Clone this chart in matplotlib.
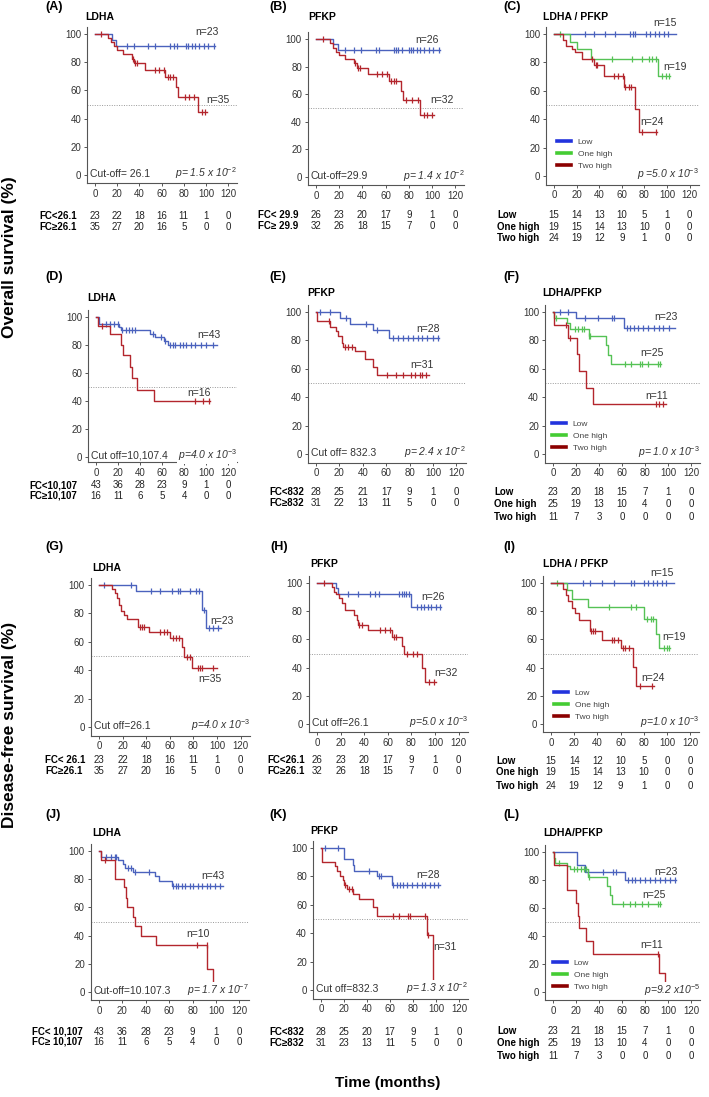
import numpy as np
import matplotlib.pyplot as plt
from matplotlib.lines import Line2D
from matplotlib.transforms import Affine2D, blended_transform_factory

plt.rcParams['font.family'] = ['Liberation Sans', 'DejaVu Sans']
plt.rcParams['mathtext.fontset'] = 'custom'
plt.rcParams['mathtext.rm'] = 'Liberation Sans'
plt.rcParams['mathtext.it'] = 'Liberation Sans:italic'

W, H = 709, 1097
TIMES = [0, 20, 40, 60, 80, 100, 120]
YTICKS = [0, 20, 40, 60, 80, 100]
GROUPS3 = ['Low', 'One high', 'Two high']

# ---- Kaplan-Meier curves: step times (months), survival (%), censor times ----
A_LOW_T = [0, 15, 19, 108]
A_LOW_S = [100, 95.7, 91.3, 91.3]
A_LOW_C = [29, 35, 48, 54, 68, 71, 74, 82, 84, 87, 90, 94, 98, 102, 107]
A_HIGH_T = [0, 12, 14, 17, 20, 25, 33, 35, 45, 63, 73, 75, 93, 101]
A_HIGH_S = [100, 97.1, 94.3, 91.4, 88.6, 85.7, 82.6, 79.5, 74.6, 69.4, 62.5, 55.6, 44.5, 44.5]
A_HIGH_C = [5, 34, 36, 38, 54, 58, 62, 66, 68, 70, 81, 85, 89, 96, 99]

B_LOW_T = [0, 15, 19, 107]
B_LOW_S = [100, 96.2, 92.3, 92.3]
B_LOW_C = [25, 33, 39, 52, 54, 67, 69, 71, 74, 80, 82, 84, 87, 90, 93, 97, 101, 106]
B_HIGH_T = [0, 12, 15, 17, 20, 25, 33, 35, 45, 63, 73, 75, 90, 102]
B_HIGH_S = [100, 96.9, 93.8, 90.6, 88.5, 85.6, 82.5, 79, 74.8, 69.9, 62.5, 55.9, 44.7, 44.7]
B_HIGH_C = [6, 34, 36, 38, 53, 57, 61, 65, 67, 69, 78, 83, 88, 93, 96, 100]

C_LOW_T = [0, 108]
C_LOW_S = [100, 100]
C_LOW_C = [27.5, 35, 44.7, 54, 67.5, 70, 72, 81, 85, 89.6, 93, 97, 101]
C_ONE_T = [0, 14, 20, 33, 92, 103]
C_ONE_S = [100, 94.7, 89.5, 82.5, 70.7, 70.7]
C_ONE_C = [5, 51, 69, 78, 84, 87, 90, 96, 99, 101.5]
C_TWO_T = [0, 8, 11, 16, 19, 25, 35, 44, 62, 72, 75, 91]
C_TWO_S = [100, 95.8, 91.7, 89.4, 87.5, 82.2, 78.3, 70.5, 62.7, 47, 31.3, 31.3]
C_TWO_C = [34, 37, 38, 53, 57, 61, 63, 66, 68, 78, 90]

D_LOW_T = [0, 3, 21, 23, 49, 54, 62, 65, 110]
D_LOW_S = [100, 95.3, 93.0, 90.7, 88.1, 85.4, 82.6, 79.8, 79.8]
D_LOW_C = [9, 13, 16, 20, 24, 27, 30, 33, 35, 52, 59, 63, 67, 70, 72, 76, 79, 82, 86, 90, 95, 100, 106]
D_HIGH_T = [0, 2, 13, 22.5, 24.3, 31, 32.5, 37.7, 53, 104]
D_HIGH_S = [100, 93.8, 87.5, 80.2, 72.9, 64.6, 56.3, 47.9, 39.9, 39.9]
D_HIGH_C = [5, 90, 97, 103]

E_LOW_T = [0, 20.6, 29, 49, 62, 105]
E_LOW_S = [100, 95.8, 91.7, 87.2, 81.9, 81.9]
E_LOW_C = [3, 12, 26, 43, 52, 66, 70, 74, 79, 83, 87, 91, 95, 100, 104]
E_HIGH_T = [0, 1, 12, 17, 19, 22, 23.5, 33.5, 42, 49, 52, 97]
E_HIGH_S = [100, 93.5, 89.5, 86.4, 83.3, 78.2, 75.3, 72.2, 66.8, 61.2, 55.8, 55.8]
E_HIGH_C = [11, 25, 27, 31, 61, 68, 74, 81, 85, 89, 91, 94]

F_LOW_T = [0, 20, 62, 106]
F_LOW_S = [100, 95.7, 88.5, 88.5]
F_LOW_C = [6, 13, 28, 39.5, 51, 53, 64, 67, 70, 74, 78, 83, 88, 92, 96, 101]
F_ONE_T = [0, 1, 12, 15, 31, 46, 48, 50, 94]
F_ONE_S = [100, 96, 92, 88, 83.2, 77, 70, 63.2, 63.2]
F_ONE_C = [3, 19, 22, 25, 27, 31, 32, 62.5, 68, 75.5, 77, 83, 91, 93]
F_TWO_T = [0, 1, 13, 21, 23, 29, 35, 98]
F_TWO_S = [100, 90.9, 81.8, 70.1, 58.4, 46.8, 35.1, 35.1]
F_TWO_C = [11.5, 15, 90, 92, 96]

G_LOW_T = [0, 31.4, 87, 90.6, 103]
G_LOW_S = [100, 95.5, 82.5, 69.4, 69.4]
G_LOW_C = [4.5, 27, 44, 52, 62, 67, 69, 77, 82, 85, 89, 93, 97, 101]
G_HIGH_T = [0, 11, 13.5, 15, 17, 19, 21, 23.5, 33.4, 42, 60, 70, 72, 78.8, 100]
G_HIGH_S = [100, 97, 94.1, 90.6, 85.9, 81.9, 78.8, 75.8, 70.6, 67, 63, 56, 49.4, 41.9, 41.9]
G_HIGH_C = [35, 36.5, 38, 52, 55, 57.5, 63, 65.5, 67.5, 74.5, 76.8, 84, 86, 87.5, 97]

H_LOW_T = [0, 16, 18, 80, 105]
H_LOW_S = [100, 96.2, 92.3, 83.3, 83.3]
H_LOW_C = [26.6, 35, 44.6, 49.4, 52.3, 69.4, 72, 73.7, 75.7, 78, 85, 88, 91, 94, 96.6, 101, 104.6]
H_HIGH_T = [0, 12.3, 14, 16, 19, 21, 24, 31, 33.7, 35, 43, 63.7, 72, 73.7, 89.4, 91.4, 101]
H_HIGH_S = [100, 96.9, 93.8, 92, 89.6, 85.8, 80.7, 77, 73.6, 70, 66.5, 61.8, 55, 50, 39.4, 30, 30]
H_HIGH_C = [5.7, 36, 38, 53.7, 58, 62, 65, 67, 76.6, 81, 85, 95, 99]

I_LOW_T = [0, 106]
I_LOW_S = [100, 100]
I_LOW_C = [28, 33.7, 43.8, 54, 69, 71.5, 80, 84, 88, 91.4, 95.7, 99.4]
I_ONE_T = [0, 14, 18, 32, 80, 90.8, 92.8, 103]
I_ONE_S = [100, 94.7, 88.7, 82.7, 74.6, 64, 53.7, 53.7]
I_ONE_C = [5, 50, 69, 73, 83, 86, 88, 97, 100, 102]
I_TWO_T = [0, 10.6, 13, 15, 18, 21, 24.5, 33.5, 43.8, 60.5, 71, 73.5, 88.5]
I_TWO_S = [100, 95.8, 91.7, 87.5, 82.3, 78.7, 74, 65.7, 59.8, 53.9, 40.2, 26.7, 26.7]
I_TWO_C = [34.5, 36, 38, 52.4, 54.5, 58, 62, 64, 67, 77, 87]

J_LOW_T = [0, 2, 16, 20.6, 22, 29, 47.7, 51.4, 62, 106]
J_LOW_S = [100, 96, 93.7, 90.9, 88.2, 85.3, 82.3, 79, 75.4, 75.4]
J_LOW_C = [6.3, 10.6, 13.4, 14.9, 25, 27.7, 30.6, 43, 63.4, 65.4, 67.7, 70.6, 73.4, 77.7,
           80.6, 84.9, 87.7, 92, 94.9, 99, 103.4]
J_HIGH_T = [0, 1.4, 13.4, 21, 22.9, 24.3, 29, 30.6, 36, 49, 92.6, 97.7, 97.7]
J_HIGH_S = [100, 93.8, 80, 74.5, 67, 60, 53, 46.5, 39.7, 33, 16.5, 0, 0]
J_HIGH_C = [5, 83.4, 92]

K_LOW_T = [0, 20.2, 27.7, 29, 48.6, 61.6, 103.5]
K_LOW_S = [100, 92.3, 88.2, 84, 80.2, 74.1, 74.1]
K_LOW_C = [3.8, 14.5, 42, 50, 52, 63, 66, 68.8, 71.7, 74.6, 79, 83.2, 87.6, 90.5, 94.8, 98, 102]
K_HIGH_T = [0, 1, 12.4, 14, 16.8, 19, 19.8, 22.5, 28, 32.7, 45.6, 48.6, 92, 97.7, 97.7]
K_HIGH_S = [100, 90.3, 87.1, 83.9, 80.6, 77.4, 74.2, 71, 67.7, 64.2, 58.8, 51.8, 38.8, 0, 0]
K_HIGH_C = [21, 24, 27, 62.4, 68, 76, 77.5, 90.5, 93]

L_LOW_T = [0, 20.7, 28, 63, 107]
L_LOW_S = [100, 90.5, 86, 80, 80]
L_LOW_C = [30.8, 43.8, 52.4, 55, 65.4, 68.3, 71, 75.5, 80, 84, 88.5, 92.8, 97, 101.4, 105.8]
L_ONE_T = [0, 1, 2, 12, 15, 30.8, 46.7, 49.6, 51, 94]
L_ONE_S = [100, 96, 92, 90, 88, 82.5, 75.4, 69.4, 62.7, 62.7]
L_ONE_C = [5, 18, 21, 24, 27, 29, 31, 61, 67, 71, 77, 82.7, 91.4, 92.8]
L_TWO_T = [0, 1, 12, 20, 22, 23, 28.8, 35, 92, 97.7, 97.7]
L_TWO_S = [100, 90.9, 72.7, 63.6, 54.5, 45.5, 36.4, 27.3, 13.6, 0, 0]
L_TWO_C = [91]

# ---- numbers at risk ----
A_RISK_LAB = ['FC<26.1', 'FC\u226526.1']
A_RISK = [[23, 22, 18, 16, 11, 1, 0], [35, 27, 20, 16, 5, 0, 0]]
B_RISK_LAB = ['FC< 29.9', 'FC\u2265 29.9']
B_RISK = [[26, 23, 20, 17, 9, 1, 0], [32, 26, 18, 15, 7, 0, 0]]
C_RISK = [[15, 14, 13, 10, 5, 1, 0], [19, 15, 14, 13, 10, 0, 0], [24, 19, 12, 9, 1, 0, 0]]
D_RISK_LAB = ['FC<10,107', 'FC\u226510,107']
D_RISK = [[43, 36, 28, 23, 9, 1, 0], [16, 11, 6, 5, 4, 0, 0]]
E_RISK_LAB = ['FC<832', 'FC\u2265832']
E_RISK = [[28, 25, 21, 17, 9, 1, 0], [31, 22, 13, 11, 5, 0, 0]]
F_RISK = [[23, 20, 18, 15, 7, 1, 0], [25, 19, 13, 10, 4, 0, 0], [11, 7, 3, 0, 0, 0, 0]]
G_RISK_LAB = ['FC< 26.1', 'FC\u226526.1']
G_RISK = [[23, 22, 18, 16, 11, 1, 0], [35, 27, 20, 16, 5, 0, 0]]
H_RISK_LAB = ['FC<26.1', 'FC\u226526.1']
H_RISK = [[26, 23, 20, 17, 9, 1, 0], [32, 26, 18, 15, 7, 0, 0]]
I_RISK = [[15, 14, 12, 10, 5, 0, 0], [19, 15, 14, 13, 10, 0, 0], [24, 19, 12, 9, 1, 0, 0]]
J_RISK_LAB = ['FC< 10,107', 'FC\u2265 10,107']
J_RISK = [[43, 36, 28, 23, 9, 1, 0], [16, 11, 6, 5, 4, 0, 0]]
K_RISK_LAB = ['FC<832', 'FC\u2265832']
K_RISK = [[28, 25, 20, 17, 9, 1, 0], [31, 23, 13, 11, 5, 0, 0]]
L_RISK = [[23, 21, 18, 15, 7, 1, 0], [25, 19, 13, 10, 4, 0, 0], [11, 7, 3, 0, 0, 0, 0]]

BLUE, RED, GREEN = '#4b62bd', '#b3262d', '#55c255'
LEG_COLORS = ['#2233dd', '#44cc33', '#8b0000']

fig = plt.figure(figsize=(W / 100, H / 100), dpi=100)
px = Affine2D().scale(1 / W, -1 / H).translate(0, 1) + fig.transFigure


def draw_curve(ax, t, s, cens, color):
    t = np.asarray(t, float)
    s = np.asarray(s, float)
    ax.step(t, s, where='post', color=color, lw=1.0, zorder=3)
    idx = np.searchsorted(t, cens, side='right') - 1
    ax.plot(cens, s[idx], ls='none', marker='|', ms=4.5, mew=0.9, color=color, zorder=3)


def panel(tag, tag_xy, title, title_xy, geom, curves, nlabels, cut, pval,
          risk_lab, risk, risk_x, risk_y, legend_xy=None, ybot=-6):
    x0, x100, y100, y0 = geom
    ppx, ppy = (x100 - x0) / 100, (y0 - y100) / 100
    left, right = x0 - 7 * ppx, x0 + 128 * ppx
    top, bottom = y100 - 5 * ppy, y0 - ybot * ppy
    ax = fig.add_axes([left / W, 1 - bottom / H, (right - left) / W, (bottom - top) / H])
    ax.set_xlim(-7, 128)
    ax.set_ylim(ybot, 105)
    for sp in ['top', 'right']:
        ax.spines[sp].set_visible(False)
    for sp in ['left', 'bottom']:
        ax.spines[sp].set_color('#555555')
        ax.spines[sp].set_linewidth(0.8)
    ax.set_xticks(TIMES)
    ax.set_yticks(YTICKS)
    ax.tick_params(labelsize=7, length=2.5, width=0.7, color='#555555',
                   labelcolor='#333333', pad=1.8)
    ax.axhline(50, color='#999999', lw=0.7, ls=(0, (1, 1.5)), zorder=1)
    for t, s, c, col in curves:
        draw_curve(ax, t, s, c, col)
    for (x, y), txt in nlabels:
        ax.text(x, y, txt, fontsize=7.5, color='#333333', va='center', ha='left')
    if cut:
        ax.text(-4.5, 1, cut, fontsize=7.5, color='#333333', va='center', ha='left')
    ax.text(128, 1, pval, fontsize=7.5, color='#333333', va='center', ha='right',
            style='italic', zorder=5,
            bbox=dict(facecolor='white', edgecolor='none', pad=0.3))
    fig.text(tag_xy[0], tag_xy[1], tag, transform=px, fontsize=9, weight='bold',
             va='center', ha='left')
    fig.text(title_xy[0], title_xy[1], title, transform=px, fontsize=7.5,
             weight='bold', va='center', ha='left')
    bt = blended_transform_factory(ax.transData, px)
    for lab, row, y in zip(risk_lab, risk, risk_y):
        fig.text(risk_x, y, lab, transform=px, fontsize=7, weight='bold',
                 va='center', ha='left')
        for t, n in zip(TIMES, row):
            ax.text(t, y, str(n), transform=bt, fontsize=7, color='#222222',
                    va='center', ha='center', clip_on=False)
    if legend_xy is not None:
        handles = [Line2D([], [], color=c, lw=2.6) for c in LEG_COLORS]
        ax.legend(handles, GROUPS3, loc='upper left', bbox_to_anchor=legend_xy,
                  bbox_transform=px, frameon=False, fontsize=6, handlelength=1.7,
                  handletextpad=0.8, labelspacing=0.5, borderpad=0, borderaxespad=0,
                  labelcolor='#444444')
    return ax


panel('(A)', (45, 7), 'LDHA', (85, 17), (95, 206, 34, 175),
      [(A_LOW_T, A_LOW_S, A_LOW_C, BLUE), (A_HIGH_T, A_HIGH_S, A_HIGH_C, RED)],
      [((90, 101.4), 'n=23'), ((100.6, 53), 'n=35')],
      'Cut-off= 26.1', 'p= 1.5 x 10$^{-2}$', A_RISK_LAB, A_RISK, 39, [216, 227])
panel('(B)', (269, 7), 'PFKP', (308, 17), (316, 432, 39, 177),
      [(B_LOW_T, B_LOW_S, B_LOW_C, BLUE), (B_HIGH_T, B_HIGH_S, B_HIGH_C, RED)],
      [((85.5, 99.5), 'n=26'), ((98.5, 56), 'n=32')],
      'Cut-off=29.9', 'p= 1.4 x 10$^{-2}$', B_RISK_LAB, B_RISK, 258, [215, 226])
panel('(C)', (503, 7), 'LDHA / PFKP', (543, 17), (554, 667, 34, 176),
      [(C_LOW_T, C_LOW_S, C_LOW_C, BLUE), (C_ONE_T, C_ONE_S, C_ONE_C, GREEN),
       (C_TWO_T, C_TWO_S, C_TWO_C, RED)],
      [((88, 107.6), 'n=15'), ((97, 77), 'n=19'), ((76, 38), 'n=24')],
      None, 'p =5.0 x 10$^{-3}$', GROUPS3, C_RISK, 497, [215, 227, 238],
      legend_xy=(557, 138))
panel('(D)', (45, 277), 'LDHA', (87, 298), (96, 206, 317, 457),
      [(D_LOW_T, D_LOW_S, D_LOW_C, BLUE), (D_HIGH_T, D_HIGH_S, D_HIGH_C, RED)],
      [((91.8, 87.4), 'n=43'), ((83, 46), 'n=16')],
      'Cut off=10,107.4', 'p=4.0 x 10$^{-3}$', D_RISK_LAB, D_RISK, 29, [485, 496],
      ybot=-3.5)
panel('(E)', (269, 277), 'PFKP', (307, 293), (316, 433, 312, 454),
      [(E_LOW_T, E_LOW_S, E_LOW_C, BLUE), (E_HIGH_T, E_HIGH_S, E_HIGH_C, RED)],
      [((86, 88), 'n=28'), ((80.6, 62.8), 'n=31')],
      'Cut off= 832.3', 'p= 2.4 x 10$^{-2}$', E_RISK_LAB, E_RISK, 269, [492, 503])
panel('(F)', (503, 277), 'LDHA/PFKP', (542, 293), (553, 668, 312, 454),
      [(F_LOW_T, F_LOW_S, F_LOW_C, BLUE), (F_ONE_T, F_ONE_S, F_ONE_C, GREEN),
       (F_TWO_T, F_TWO_S, F_TWO_C, RED)],
      [((88.5, 96.5), 'n=23'), ((75.5, 71), 'n=25'), ((80, 41), 'n=11')],
      None, 'p= 1.0 x 10$^{-3}$', GROUPS3, F_RISK, 494, [492, 504, 517],
      legend_xy=(552, 420))
panel('(G)', (45, 547), 'LDHA', (92, 568), (99, 217, 585, 727),
      [(G_LOW_T, G_LOW_S, G_LOW_C, BLUE), (G_HIGH_T, G_HIGH_S, G_HIGH_C, RED)],
      [((94, 75), 'n=23'), ((84, 34), 'n=35')],
      'Cut off=26.1', 'p=4.0 x 10$^{-3}$', G_RISK_LAB, G_RISK, 45, [760, 771])
panel('(H)', (270, 547), 'PFKP', (310, 564), (317, 435, 583, 724),
      [(H_LOW_T, H_LOW_S, H_LOW_C, BLUE), (H_HIGH_T, H_HIGH_S, H_HIGH_C, RED)],
      [((88.6, 90), 'n=26'), ((99, 36.5), 'n=32')],
      'Cut off=26.1', 'p=5.0 x 10$^{-3}$', H_RISK_LAB, H_RISK, 267, [760, 771])
panel('(I)', (503, 547), 'LDHA / PFKP', (543, 564), (551, 667, 583, 724),
      [(I_LOW_T, I_LOW_S, I_LOW_C, BLUE), (I_ONE_T, I_ONE_S, I_ONE_C, GREEN),
       (I_TWO_T, I_TWO_S, I_TWO_C, RED)],
      [((86, 107), 'n=15'), ((95.6, 61.5), 'n=19'), ((77.5, 32.6), 'n=24')],
      None, 'p=1.0 x 10$^{-3}$', GROUPS3, I_RISK, 496, [761, 772, 786],
      legend_xy=(554, 689))
panel('(J)', (45, 815), 'LDHA', (92, 833), (99, 216, 851, 992),
      [(J_LOW_T, J_LOW_S, J_LOW_C, BLUE), (J_HIGH_T, J_HIGH_S, J_HIGH_C, RED)],
      [((87.7, 82), 'n=43'), ((74.9, 40.8), 'n=10')],
      'Cut-off=10.107.3', 'p= 1.7 x 10$^{-7}$', J_RISK_LAB, J_RISK, 32, [1032, 1042])
panel('(K)', (269, 815), 'PFKP', (310, 831), (321, 436, 848, 990),
      [(K_LOW_T, K_LOW_S, K_LOW_C, BLUE), (K_HIGH_T, K_HIGH_S, K_HIGH_C, RED)],
      [((82.7, 81), 'n=28'), ((98, 30.6), 'n=31')],
      'Cut off=832.3', 'p= 1.3 x 10$^{-2}$', K_RISK_LAB, K_RISK, 269, [1032, 1043])
panel('(L)', (503, 815), 'LDHA/PFKP', (543, 833), (553, 668, 852, 992),
      [(L_LOW_T, L_LOW_S, L_LOW_C, BLUE), (L_ONE_T, L_ONE_S, L_ONE_C, GREEN),
       (L_TWO_T, L_TWO_S, L_TWO_C, RED)],
      [((88.5, 85.6), 'n=23'), ((77.8, 69.4), 'n=25'), ((75.5, 33.5), 'n=11')],
      None, 'p=9.2 x10$^{-5}$', GROUPS3, L_RISK, 497, [1031, 1043, 1056],
      legend_xy=(553, 959))

fig.text(10, 257, 'Overall survival (%)', transform=px, rotation=90, ha='center',
         va='center', fontsize=12.5, weight='bold')
fig.text(10, 725, 'Disease-free survival (%)', transform=px, rotation=90, ha='center',
         va='center', fontsize=12.5, weight='bold')
fig.text(388, 1083, 'Time (months)', transform=px, ha='center', va='center',
         fontsize=11, weight='bold')

fig.savefig('out.png', dpi=100)
